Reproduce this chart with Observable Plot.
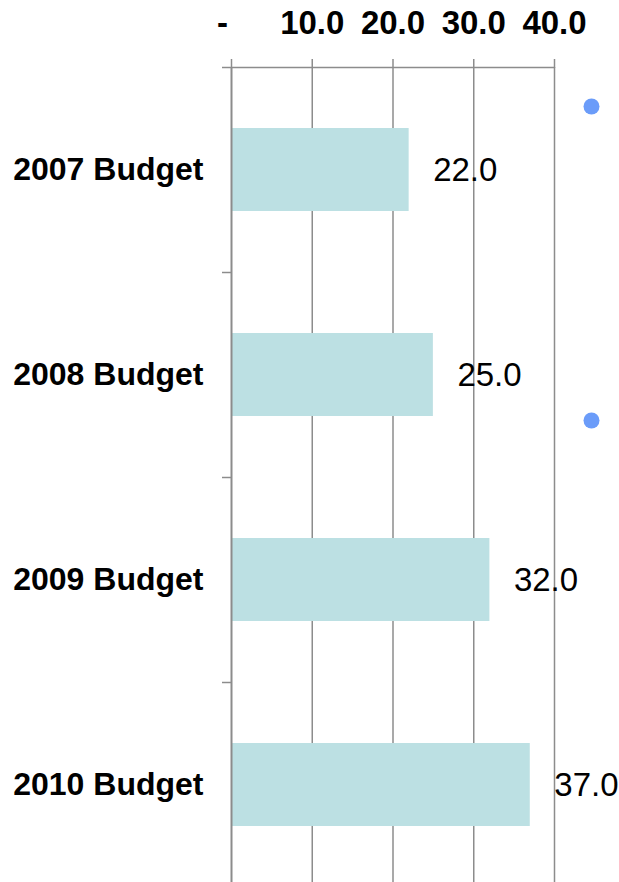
<!DOCTYPE html>
<html>
<head>
<meta charset="utf-8">
<script src="https://cdn.jsdelivr.net/npm/d3@7"></script>
<script src="https://cdn.jsdelivr.net/npm/@observablehq/plot@0.6"></script>
<style>
  html, body { margin: 0; padding: 0; background: #fff; }
  #chart svg { display: block; }
</style>
</head>
<body>
<div id="chart"></div>
<script>
const categories = ["2007 Budget", "2008 Budget", "2009 Budget", "2010 Budget"];
const values = [22.0, 25.0, 32.0, 37.0];
const xTicks = [0, 10, 20, 30, 40];

const data = categories.map((c, i) => ({category: c, value: values[i]}));

const grid = "#8c8c8c";
const chart = Plot.plot({
  width: 619,
  height: 882,
  marginTop: 67,
  marginBottom: 0,
  marginLeft: 231,
  marginRight: 65,
  style: {fontFamily: "Arial, 'Liberation Sans', sans-serif", color: "#000", background: "#fff", overflow: "visible"},
  x: {domain: [0, 40]},
  y: {domain: categories, range: [67, 887], padding: 0},
  marks: [
    Plot.gridX(xTicks.slice(1), {stroke: grid, strokeOpacity: 1, strokeWidth: 1.5}),
    Plot.barX(data, {x: "value", y: "category", fill: "#bce0e3", insetTop: 61, insetBottom: 61}),
    Plot.ruleX([0], {stroke: grid, strokeWidth: 2}),
    Plot.ruleY([categories[0]], {stroke: grid, strokeWidth: 1.5, dy: -102.5}),
    Plot.axisY({tickSize: 9, stroke: grid, strokeWidth: 1.5, tickFormat: () => "", dy: -102.5, label: null}),
    Plot.axisY({tickSize: 0, tickPadding: 28, fontSize: 32, fontWeight: "bold", label: null}),
    Plot.axisX(xTicks, {anchor: "top", tickSize: 9, stroke: grid, strokeWidth: 1.5, tickPadding: 25, fontSize: 33, fontWeight: "bold",
      tickFormat: d => d === 0 ? "" : d.toFixed(1), label: null}),
    Plot.axisX([0], {anchor: "top", tickSize: 0, tickPadding: 34, fontSize: 33, fontWeight: "bold", dx: -9,
      tickFormat: () => "-", label: null}),
    Plot.text(data, {x: "value", y: "category", text: d => d.value.toFixed(1), textAnchor: "start", dx: 24, fontSize: 33, fill: "#000"}),
    Plot.dot([0], {x: null, y: null, frameAnchor: "top-right", dx: 37, dy: 39, r: 8, fill: "#6b9cf9", stroke: "none"}),
    Plot.dot([0], {x: null, y: null, frameAnchor: "top-right", dx: 37, dy: 353, r: 8, fill: "#6b9cf9", stroke: "none"})
  ]
});
document.getElementById("chart").appendChild(chart);
</script>
</body>
</html>
